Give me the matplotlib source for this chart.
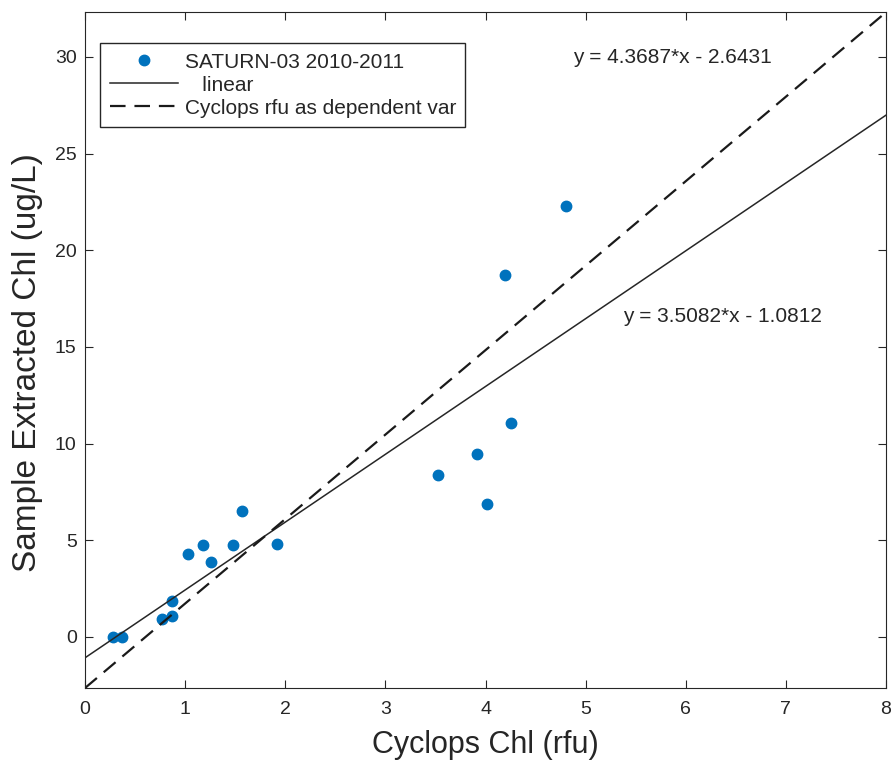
import matplotlib
matplotlib.use('Agg')
import matplotlib.pyplot as plt
import numpy as np

plt.rcParams['font.family'] = ['Liberation Sans', 'DejaVu Sans']

# sample points
cyclops = [0.28, 0.37, 0.77, 0.87, 0.87, 1.03, 1.18, 1.26, 1.48, 1.57, 1.92,
           3.53, 3.92, 4.01, 4.19, 4.25, 4.80]
extracted = [0.0, 0.0, 0.93, 1.08, 1.86, 4.29, 4.74, 3.88, 4.74, 6.49, 4.83,
             8.35, 9.48, 6.87, 18.73, 11.05, 22.27]

# fit coefficients (slope, intercept)
lin_fit = (3.5082, -1.0812)
dep_fit = (4.3687, -2.6431)

x_line = np.array([0, 8])

fig = plt.figure(figsize=(8.91, 7.61), dpi=100)
ax = fig.add_axes([0.0954, 0.0959, 0.899, 0.888])

ax.plot(cyclops, extracted, 'o', color='#0072BD', markersize=7.5,
        label='SATURN-03 2010-2011')
ax.plot(x_line, lin_fit[0] * x_line + lin_fit[1], '-', color='#262626',
        linewidth=1.1, label='   linear')
ax.plot(x_line, dep_fit[0] * x_line + dep_fit[1], '--', color='#1a1a1a',
        linewidth=1.6, dashes=(7, 4), label='Cyclops rfu as dependent var')

ax.text(4.875, 29.95, 'y = %.4f*x - %.4f' % (dep_fit[0], -dep_fit[1]),
        fontsize=15, va='center', color='#262626')
ax.text(5.375, 16.55, 'y = %.4f*x - %.4f' % (lin_fit[0], -lin_fit[1]),
        fontsize=15, va='center', color='#262626')

ax.set_xlim(0, 8)
ax.set_ylim(dep_fit[1], dep_fit[0] * 8 + dep_fit[1])
ax.set_xticks(range(0, 9))
ax.set_yticks(range(0, 31, 5))
ax.tick_params(direction='in', top=True, right=True, labelsize=14,
               length=6, colors='#262626')
ax.tick_params(axis='x', pad=9)
ax.tick_params(axis='y', pad=6)
for s in ax.spines.values():
    s.set_color('#262626')

ax.set_xlabel('Cyclops Chl (rfu)', fontsize=22, color='#262626', va='center')
ax.set_ylabel('Sample Extracted Chl (ug/L)', fontsize=24, color='#262626',
              va='center')
ax.xaxis.set_label_coords(0.5, -0.084)
ax.yaxis.set_label_coords(-0.072, 0.482)

leg = ax.legend(loc='upper left', bbox_to_anchor=(0.019, 0.954), fontsize=15,
                fancybox=False, edgecolor='#262626', framealpha=1,
                handlelength=3.3, handletextpad=0.3, borderpad=0.45,
                labelspacing=0.19, borderaxespad=0)
leg.get_frame().set_linewidth(1.0)
for t in leg.get_texts():
    t.set_color('#262626')

fig.savefig('out.png', dpi=100)
